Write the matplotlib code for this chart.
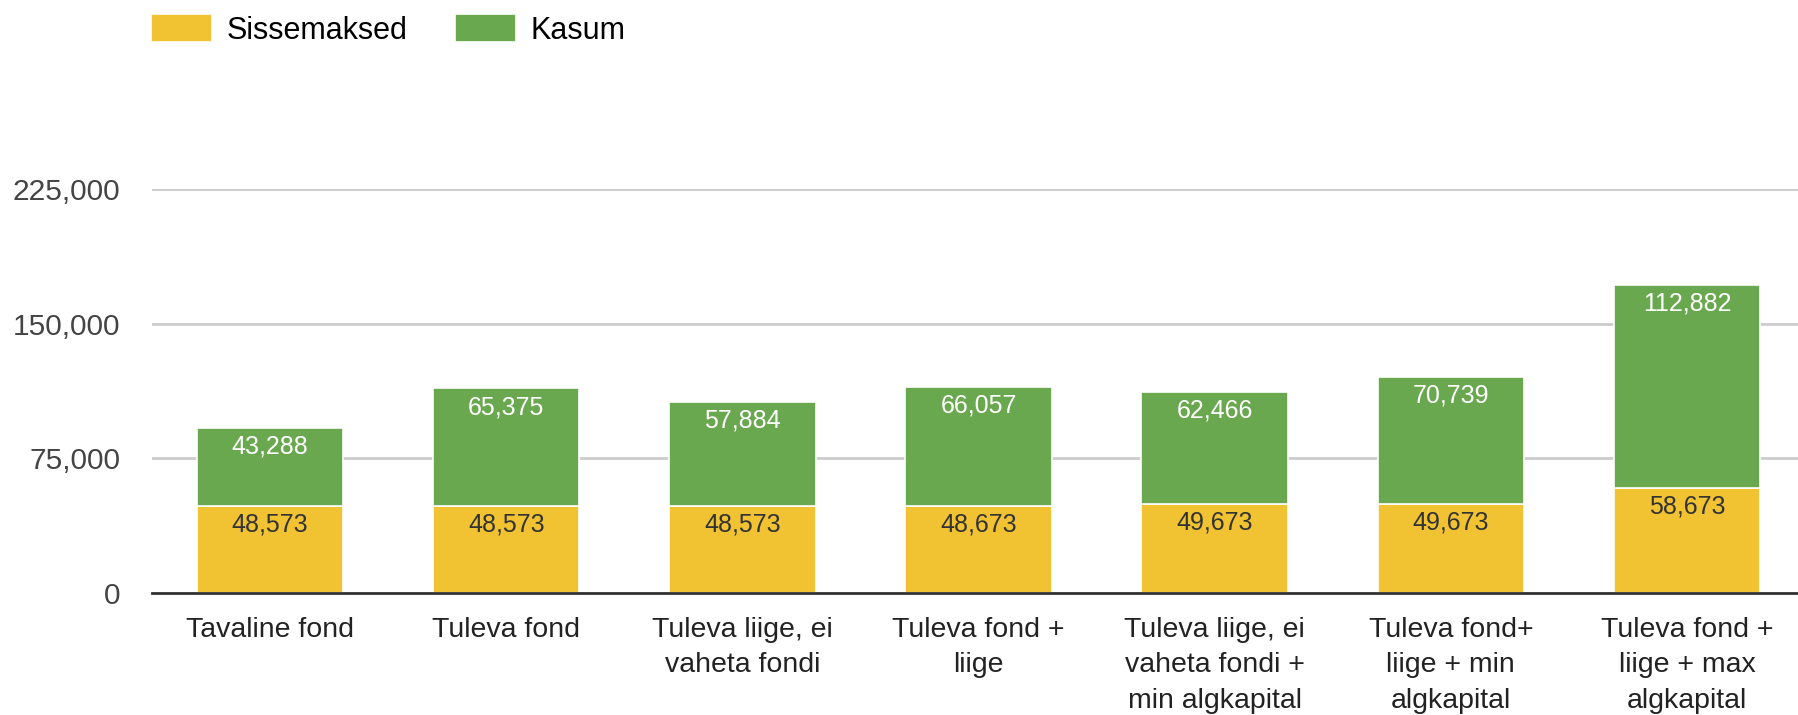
import numpy as np
import matplotlib
matplotlib.use("Agg")
import matplotlib.pyplot as plt
from matplotlib.ticker import FuncFormatter

plt.rcParams["font.family"] = ["Liberation Sans", "DejaVu Sans"]

categories = [
    "Tavaline fond",
    "Tuleva fond",
    "Tuleva liige, ei\nvaheta fondi",
    "Tuleva fond +\nliige",
    "Tuleva liige, ei\nvaheta fondi +\nmin algkapital",
    "Tuleva fond+\nliige + min\nalgkapital",
    "Tuleva fond +\nliige + max\nalgkapital",
]
sissemaksed = [48573, 48573, 48573, 48673, 49673, 49673, 58673]
kasum = [43288, 65375, 57884, 66057, 62466, 70739, 112882]
y_ticks = [0, 75000, 150000, 225000]

YELLOW = "#f1c232"
GREEN = "#6aa84f"

fig = plt.figure(figsize=(17.98, 7.15), dpi=100)
ax = fig.add_axes([152 / 1798, 1 - 593 / 715, 1 - 152 / 1798, (593 - 189) / 715])

x = np.arange(len(categories))
w = 0.62
b1 = ax.bar(x, sissemaksed, width=w, color=YELLOW, edgecolor="white", linewidth=1.2,
            label="Sissemaksed", zorder=3)
b2 = ax.bar(x, kasum, width=w, bottom=sissemaksed, color=GREEN, edgecolor="white",
            linewidth=1.2, label="Kasum", zorder=3)

# labels just below top of each segment
for xi, s, k in zip(x, sissemaksed, kasum):
    ax.annotate(f"{s:,}", (xi, s), xytext=(0, -13.5), textcoords="offset points",
                ha="center", va="center", fontsize=18, color="#333333", zorder=4)
    ax.annotate(f"{k:,}", (xi, s + k), xytext=(0, -13.5), textcoords="offset points",
                ha="center", va="center", fontsize=18, color="white", zorder=4)

ax.set_xlim(-0.5, 6.47)
ax.set_ylim(0, 225000)
ax.set_yticks(y_ticks)
ax.yaxis.set_major_formatter(FuncFormatter(lambda v, p: f"{int(v):,}"))
ax.set_xticks(x)
ax.set_xticklabels(categories, fontsize=20.5, color="#222222", linespacing=1.48, va="top")
ax.tick_params(axis="y", length=0, pad=23, labelsize=21.5, labelcolor="#444444")
ax.tick_params(axis="x", length=0, pad=17)
ax.grid(axis="y", color="#cccccc", linewidth=2, zorder=0)
ax.set_axisbelow(True)
for s in ["top", "right", "left"]:
    ax.spines[s].set_visible(False)
ax.spines["bottom"].set_color("#333333")
ax.spines["bottom"].set_linewidth(2)
ax.spines["bottom"].set_zorder(5)

fig.legend(handles=[b1, b2], loc="upper left", bbox_to_anchor=(151 / 1798, 1 - 14 / 715),
           ncol=2, frameon=False, fontsize=22, handlelength=2.0, handleheight=1.05,
           handletextpad=0.46, columnspacing=1.57, borderpad=0, borderaxespad=0)

fig.savefig("out.png", dpi=100)
